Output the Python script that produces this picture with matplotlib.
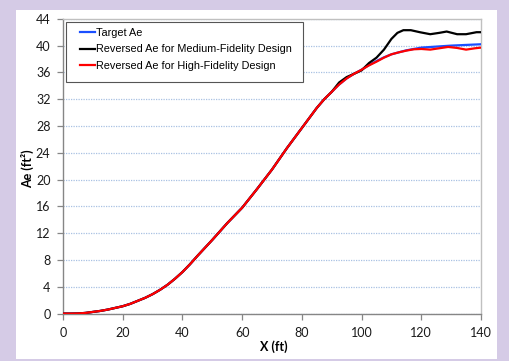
import matplotlib
matplotlib.use("Agg")
import matplotlib.pyplot as plt
from matplotlib.patches import Rectangle

# ---- data ----
x_target = [0, 2.5, 5, 7.5, 10, 12.5, 15, 17.5, 20, 22.5, 25, 27.5, 30, 32.5, 35, 37.5, 40,
            42.5, 45, 50, 55, 60, 65, 70, 75, 80, 85, 87.5, 90,
            92.5, 95, 97.5, 100, 102.5, 105, 107.5, 110, 115, 120, 125, 130, 135, 140]
ae_target = [0, 0.0, 0.02, 0.1, 0.25, 0.4, 0.6, 0.85, 1.1, 1.45, 1.9, 2.35, 2.9, 3.55, 4.3,
             5.2, 6.2, 7.35, 8.6, 11.0, 13.5, 15.8, 18.6, 21.5, 24.7, 27.7, 30.7, 32.0, 33.1,
             34.2, 35.1, 35.8, 36.4, 37.1, 37.7, 38.25, 38.7, 39.3, 39.7, 39.85, 40.0, 40.1,
             40.2]

x_medium = [0, 2.5, 5, 7.5, 10, 12.5, 15, 17.5, 20, 22.5, 25, 27.5, 30, 32.5, 35, 37.5, 40,
            42.5, 45, 50, 55, 60, 65, 70, 75, 80, 85, 87.5, 90,
            92.5, 95, 97.5, 100, 102.5, 105, 107.5, 110, 112, 114, 116.5, 119.5, 123, 126,
            128.5, 132, 135, 138.5, 140]
ae_medium = [0, 0.0, 0.02, 0.1, 0.25, 0.4, 0.6, 0.85, 1.1, 1.45, 1.9, 2.35, 2.9, 3.55, 4.3,
             5.2, 6.2, 7.35, 8.6, 11.0, 13.5, 15.8, 18.6, 21.5, 24.7, 27.7, 30.7, 32.0, 33.1,
             34.5, 35.3, 35.8, 36.3, 37.4, 38.2, 39.4, 41.0, 41.9,
             42.3, 42.3, 42.0, 41.7, 41.9, 42.1, 41.7, 41.7, 42.0, 42.0]

x_high = [0, 2.5, 5, 7.5, 10, 12.5, 15, 17.5, 20, 22.5, 25, 27.5, 30, 32.5, 35, 37.5, 40,
          42.5, 45, 50, 55, 60, 65, 70, 75, 80, 85, 87.5, 90,
          92.5, 95, 97.5, 100, 102.5, 105, 107.5, 110, 112.5, 115, 117.5, 120, 123, 126, 129,
          132, 135, 138, 140]
ae_high = [0, 0.0, 0.02, 0.1, 0.25, 0.4, 0.6, 0.85, 1.1, 1.45, 1.9, 2.35, 2.9, 3.55, 4.3,
           5.2, 6.2, 7.35, 8.6, 11.0, 13.5, 15.8, 18.6, 21.5, 24.7, 27.7, 30.7, 32.0, 33.1,
           34.2, 35.1, 35.8, 36.4, 37.05, 37.6, 38.2, 38.7, 39.0, 39.25, 39.45,
           39.5, 39.4, 39.6, 39.8, 39.65, 39.4, 39.6, 39.7]

labels = ["Target Ae", "Reversed Ae for Medium-Fidelity Design",
          "Reversed Ae for High-Fidelity Design"]
x_ticks = [0, 20, 40, 60, 80, 100, 120, 140]
y_ticks = [0, 4, 8, 12, 16, 20, 24, 28, 32, 36, 40, 44]

# ---- figure ----
W, H = 510, 361
fig = plt.figure(figsize=(W / 100, H / 100), dpi=100)
fig.patch.set_facecolor("#D5CBE6")
fig.patches.append(Rectangle((16 / W, 1 - 359 / H), 481 / W, 349 / H,
                             transform=fig.transFigure, facecolor="white",
                             edgecolor="none", zorder=-5))

ax = fig.add_axes([63 / W, 1 - 313.6 / H, 418 / W, 294.8 / H])
ax.set_zorder(2)
ax.set_facecolor("white")

ax.plot(x_target, ae_target, color="#1a4fff", lw=1.6, label=labels[0], zorder=3)
ax.plot(x_medium, ae_medium, color="black", lw=1.6, label=labels[1], zorder=4)
ax.plot(x_high, ae_high, color="#ff0000", lw=1.6, label=labels[2], zorder=5)

ax.set_xlim(0, 140)
ax.set_ylim(0, 44)
ax.set_xticks(x_ticks)
ax.set_yticks(y_ticks)

tick_font = "Lato"
for lab in ax.get_xticklabels() + ax.get_yticklabels():
    lab.set_fontfamily(tick_font)
    lab.set_fontsize(9)
    lab.set_color("#1a1a1a")
ax.tick_params(axis="both", direction="out", length=4, width=0.9, color="#868686")
ax.tick_params(axis="x", pad=6)
ax.tick_params(axis="y", pad=5)

ax.grid(axis="y", color="#a9c1e3", linestyle=(0, (1, 1)), linewidth=0.9)
ax.set_axisbelow(True)

for s in ["left", "bottom"]:
    ax.spines[s].set_color("#868686")
    ax.spines[s].set_linewidth(1.0)
for s in ["top", "right"]:
    ax.spines[s].set_color("#c0c0c0")
    ax.spines[s].set_linewidth(1.0)

ax.set_xlabel("X (ft)", fontfamily=tick_font, fontweight="bold", fontsize=9)
ax.xaxis.set_label_coords(0.505, -0.112)
ax.xaxis.label.set_verticalalignment("center")
ax.set_ylabel("Ae (ft²)", fontfamily=tick_font, fontweight="bold", fontsize=9)
ax.yaxis.set_label_coords(-0.086, 0.49)
ax.yaxis.label.set_verticalalignment("center")

# legend frame
ax.add_patch(Rectangle(((66 - 63) / 418, (313.6 - 81.7) / 294.8),
                       (303 - 66) / 418, (81.7 - 22) / 294.8,
                       transform=ax.transAxes, facecolor="white",
                       edgecolor="#555555", linewidth=0.8, zorder=6))
leg = ax.legend(loc="upper left", bbox_to_anchor=((80 - 63) / 418, (313.6 - 28) / 294.8),
                frameon=False, borderpad=0, borderaxespad=0, handlelength=1.4,
                handletextpad=0.1, labelspacing=0.6,
                prop={"family": "Liberation Sans", "size": 7.8})
leg.set_zorder(7)

fig.savefig("out.png", dpi=100, facecolor=fig.get_facecolor())
